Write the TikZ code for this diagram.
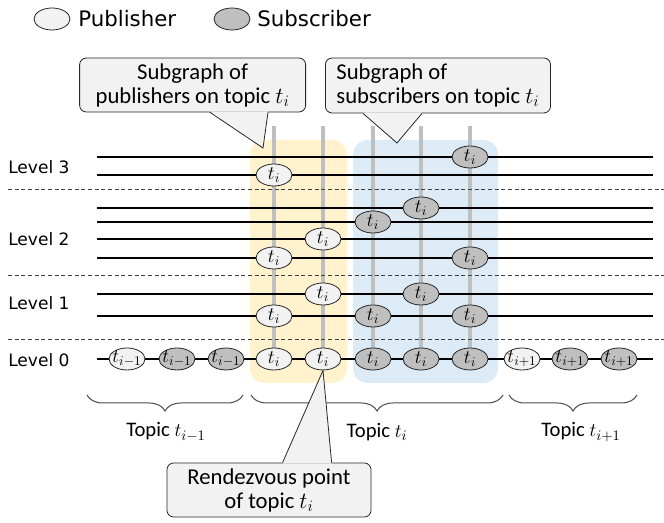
\documentclass[tikz,border=0pt]{standalone}
\usepackage{fontspec}
\setmainfont{Carlito}
\newfontfamily\verdanalike{DejaVu Sans}
\usetikzlibrary{calc,backgrounds,shapes.geometric,decorations.pathreplacing}

\definecolor{pubgray}{HTML}{F2F2F2}
\definecolor{subgray}{HTML}{BFBFBF}
\definecolor{pubarea}{HTML}{FFF2CC}
\definecolor{subarea}{HTML}{DDEBF7}
\definecolor{notegray}{HTML}{F2F2F2}

\tikzset{
  peer/.style={ellipse, draw=black!85, line width=0.6pt, minimum width=27pt,
    minimum height=16.5pt, inner xsep=-3pt, inner ysep=-1pt, font=\fontsize{14}{14}\selectfont},
  pub/.style={peer, fill=pubgray},
  sub/.style={peer, fill=subgray},
  ring/.style={line width=1.3pt},
  levelsep/.style={draw=black!75, line width=0.75pt, dash pattern=on 3pt off 2pt},
  column/.style={draw=subgray, line width=3pt},
  area/.style={rounded corners=11pt},
  note/.style={draw=black!85, fill=notegray, line width=0.6pt, rounded corners=5pt,
    inner xsep=8.25pt, inner ysep=0pt, font=\fontsize{17}{18}\selectfont},
  noteedge/.style={draw=black!85, line width=0.6pt},
  levellabel/.style={anchor=west, inner sep=0pt, font=\verdanalike\fontsize{12.8}{14}\selectfont},
  legendtext/.style={anchor=west, inner sep=0pt, font=\verdanalike\fontsize{16}{18}\selectfont},
  topicbrace/.style={decorate, decoration={brace, mirror, amplitude=12pt}, draw=black!70, line width=0.75pt},
  topiclabel/.style={inner sep=0pt, font=\fontsize{15.5}{18}\selectfont}
}

\begin{document}
\begin{tikzpicture}[x=0.75pt,y=0.75pt]
  \useasboundingbox (0,0) rectangle (664,523);

  % legend
  \node[pub, at={(52,504)}] (legpub) {};
  \node[legendtext, at={(78,504)}] (legpubtxt) {Publisher};
  \node[sub, at={(232,504)}] (legsub) {};
  \node[legendtext, at={(257,504)}] (legsubtxt) {Subscriber};

  % levels
  %labels
  \node[levellabel, at={(8,356)}] (lev3) {Level 3};
  \node[levellabel, at={(8,284)}] (lev2) {Level 2};
  \node[levellabel, at={(8,220)}] (lev1) {Level 1};
  \node[levellabel, at={(8,163)}] (lev0) {Level 0};
  %separators
  \coordinate (sep3w) at (8,333);  \coordinate (sep3e) at (664,333);
  \coordinate (sep2w) at (8,247);  \coordinate (sep2e) at (664,247);
  \coordinate (sep1w) at (8,183);  \coordinate (sep1e) at (664,183);
  \draw[levelsep] (sep3w) -- (sep3e);
  \draw[levelsep] (sep2w) -- (sep2e);
  \draw[levelsep] (sep1w) -- (sep1e);

  % level 0
  %nodes
  \node[pub, at={(127,164)}] (prev1) {$t_{i-1}$};
  \node[sub, at={(177,164)}] (prev2) {$t_{i-1}$};
  \node[sub, at={(226,164)}] (prev3) {$t_{i-1}$};
  \node[pub, at={(274,164)}] (n0A) {$t_i$};
  \node[pub, at={(323,164)}] (n0B) {$t_i$};
  \node[sub, at={(373,164)}] (n0C) {$t_i$};
  \node[sub, at={(421,164)}] (n0D) {$t_i$};
  \node[sub, at={(470,164)}] (n0E) {$t_i$};
  \node[pub, at={(522,164)}] (next1) {$t_{i+1}$};
  \node[sub, at={(570,164)}] (next2) {$t_{i+1}$};
  \node[sub, at={(619,164)}] (next3) {$t_{i+1}$};
  %edges
  \coordinate (w0) at (97,164);  \coordinate (e0) at (653,164);
  \draw[ring] (w0) -- (prev1) -- (prev2) -- (prev3) -- (n0A) -- (n0B) -- (n0C)
    -- (n0D) -- (n0E) -- (next1) -- (next2) -- (next3) -- (e0);

  % level 1
  %nodes
  \node[pub, at={(323,229)}] (n1B) {$t_i$};
  \node[sub, at={(421,229)}] (n1D) {$t_i$};
  \node[pub, at={(274,207)}] (n1A) {$t_i$};
  \node[sub, at={(373,207)}] (n1C) {$t_i$};
  \node[sub, at={(470,207)}] (n1E) {$t_i$};
  %edges
  \coordinate (w1a) at (97,229);  \coordinate (e1a) at (653,229);
  \coordinate (w1b) at (97,207);  \coordinate (e1b) at (653,207);
  \draw[ring] (w1a) -- (n1B) -- (n1D) -- (e1a);
  \draw[ring] (w1b) -- (n1A) -- (n1C) -- (n1E) -- (e1b);

  % level 2
  %nodes
  \node[sub, at={(421,315)}] (n2D) {$t_i$};
  \node[sub, at={(373,301)}] (n2C) {$t_i$};
  \node[pub, at={(323,284)}] (n2B) {$t_i$};
  \node[pub, at={(274,265)}] (n2A) {$t_i$};
  \node[sub, at={(470,265)}] (n2E) {$t_i$};
  %edges
  \coordinate (w2a) at (97,315);  \coordinate (e2a) at (653,315);
  \coordinate (w2b) at (97,301);  \coordinate (e2b) at (653,301);
  \coordinate (w2c) at (97,284);  \coordinate (e2c) at (653,284);
  \coordinate (w2d) at (97,265);  \coordinate (e2d) at (653,265);
  \draw[ring] (w2a) -- (n2D) -- (e2a);
  \draw[ring] (w2b) -- (n2C) -- (e2b);
  \draw[ring] (w2c) -- (n2B) -- (e2c);
  \draw[ring] (w2d) -- (n2A) -- (n2E) -- (e2d);

  % level 3
  %nodes
  \node[sub, at={(470,366)}] (n3E) {$t_i$};
  \node[pub, at={(274,348)}] (n3A) {$t_i$};
  %edges
  \coordinate (w3a) at (97,366);  \coordinate (e3a) at (653,366);
  \coordinate (w3b) at (97,348);  \coordinate (e3b) at (653,348);
  \draw[ring] (w3a) -- (n3E) -- (e3a);
  \draw[ring] (w3b) -- (n3A) -- (e3b);

  % subgraphs
  \coordinate (topA) at (274,397);
  \coordinate (topB) at (323,397);
  \coordinate (topC) at (373,397);
  \coordinate (topD) at (421,397);
  \coordinate (topE) at (470,397);
  \begin{pgfonlayer}{background}
    \fill[pubarea, area] (250,140) rectangle (347,383);
    \fill[subarea, area] (353,140) rectangle (498,383);
    \draw[column] (topA) -- (n0A.center);
    \draw[column] (topB) -- (n0B.center);
    \draw[column] (topC) -- (n0C.center);
    \draw[column] (topD) -- (n0D.center);
    \draw[column] (topE) -- (n0E.center);
  \end{pgfonlayer}

  % topics
  \coordinate (bw1) at (87,128);   \coordinate (be1) at (243,128);
  \coordinate (bw2) at (251,128);  \coordinate (be2) at (503,128);
  \coordinate (bw3) at (509,128);  \coordinate (be3) at (637,128);
  \draw[topicbrace] (bw1) -- (be1);
  \draw[topicbrace] (bw2) -- (be2);
  \draw[topicbrace] (bw3) -- (be3);
  \node[topiclabel, at={(166,91)}] (topprev) {Topic $t_{i-1}$};
  \node[topiclabel, at={(377,91)}] (topcur) {Topic $t_i$};
  \node[topiclabel, at={(581,91)}] (topnext) {Topic $t_{i+1}$};

  % notes
  %publishers
  \node[note, inner xsep=12pt, align=center, minimum height=40.5pt, anchor=east, at={(306,438)}] (pubnote)
    {Subgraph of\\publishers on topic $t_i$};
  \coordinate (pubtip) at (263,375);
  \fill[notegray] ($(pubnote.south east)+(-96,1)$) -- (pubtip) -- ($(pubnote.south east)+(-38,1)$) -- cycle;
  \draw[noteedge] ($(pubnote.south east)+(-96,0)$) -- (pubtip) -- ($(pubnote.south east)+(-38,0)$);
  %subscribers
  \node[note, align=left, minimum height=41.25pt, anchor=west, at={(325,437.5)}] (subnote)
    {Subgraph of\\subscribers on topic $t_i$};
  \coordinate (subtip) at (397,380);
  \fill[notegray] ($(subnote.south west)+(38,1)$) -- (subtip) -- ($(subnote.south west)+(97,1)$) -- cycle;
  \draw[noteedge] ($(subnote.south west)+(38,0)$) -- (subtip) -- ($(subnote.south west)+(97,0)$);
  %rendezvous
  \node[note, align=center, minimum width=153pt, minimum height=40.5pt, at={(269,33)}] (rvnote)
    {Rendezvous point\\of topic $t_i$};
  \fill[notegray] ($(rvnote.north west)+(116,-1)$) -- (n0B.south) -- ($(rvnote.north west)+(165,-1)$) -- cycle;
  \draw[noteedge] ($(rvnote.north west)+(116,0)$) -- (n0B.south) -- ($(rvnote.north west)+(165,0)$);
\end{tikzpicture}
\end{document}
